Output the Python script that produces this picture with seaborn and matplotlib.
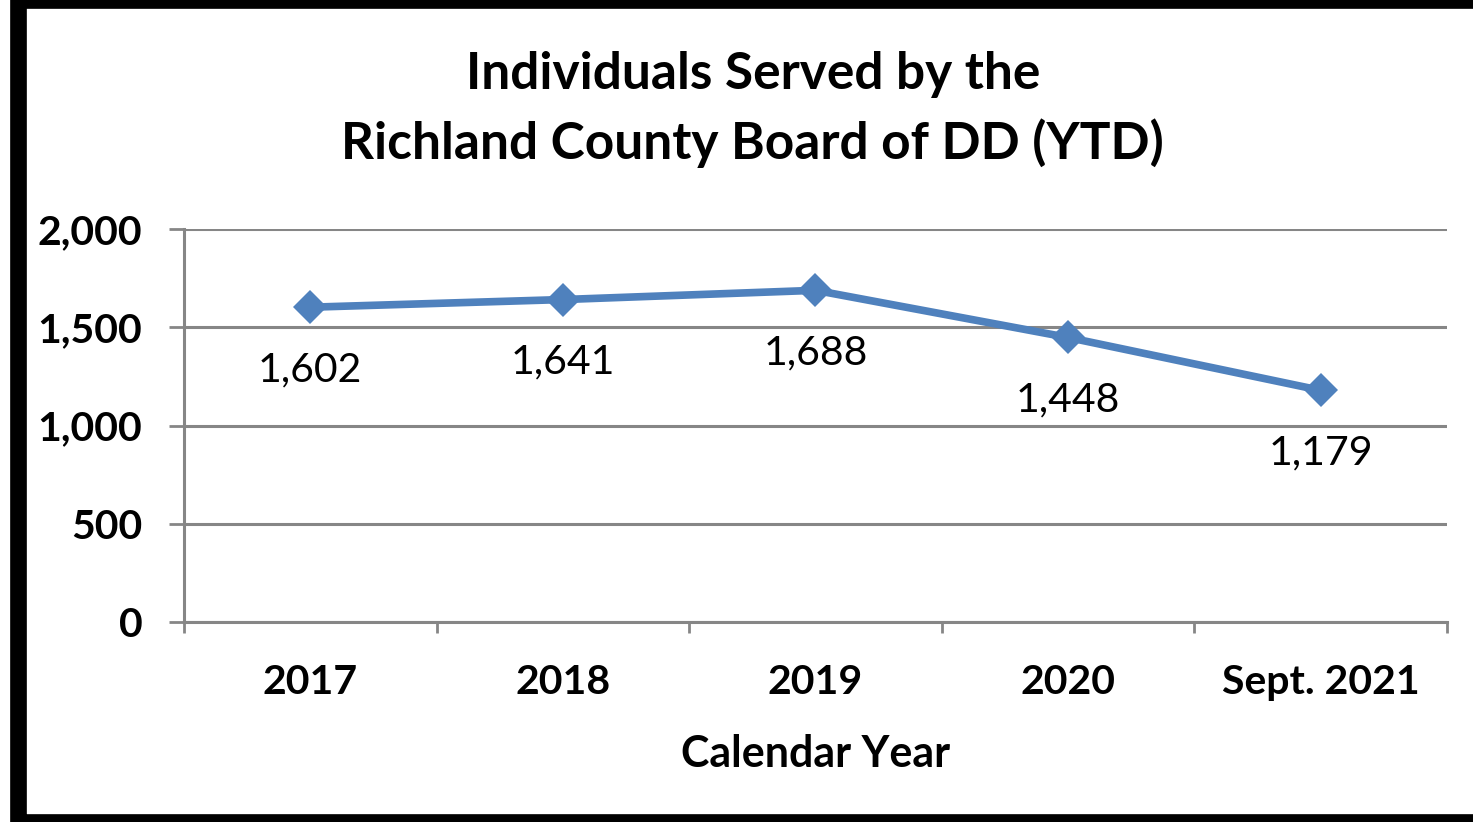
import pandas as pd
import numpy as np
import seaborn as sns
import matplotlib.pyplot as plt
from matplotlib.patches import Rectangle

years = ['2017', '2018', '2019', '2020', 'Sept. 2021']
served = [1602, 1641, 1688, 1448, 1179]
y_ticks = [0, 500, 1000, 1500, 2000]
y_labels = ['0', '500', '1,000', '1,500', '2,000']

df = pd.DataFrame({'year': years, 'served': served})

sns.set_style('white')
plt.rcParams['font.family'] = ['Lato', 'DejaVu Sans']
plt.rcParams['text.color'] = 'black'
plt.rcParams['xtick.color'] = 'black'
plt.rcParams['ytick.color'] = 'black'
plt.rcParams['axes.labelcolor'] = 'black'

fig = plt.figure(figsize=(14.73, 8.22), dpi=100)
ax = fig.add_axes([0.1249, 0.2433, 0.8574, 0.4781])

sns.lineplot(data=df, x='year', y='served', ax=ax, color='#4F81BD',
             linewidth=5.5, marker='D', markersize=17, markeredgewidth=0,
             sort=False)

for i, v in enumerate(served):
    ax.annotate(f'{v:,}', (i, v), xytext=(0, -45), textcoords='offset points',
                ha='center', va='center', fontsize=29.5, color='black')

ax.set_xlim(-0.5, len(years) - 0.5)
ax.set_ylim(0, 2000)
ax.set_yticks(y_ticks)
ax.set_yticklabels(y_labels, fontsize=29.5, fontweight='bold')
ax.set_xticks(range(len(years)))
ax.set_xticklabels(years, fontsize=29.5, fontweight='bold')
ax.set_xticks(np.arange(-0.5, len(years)), minor=True)
ax.tick_params(axis='x', which='major', bottom=True, length=0, pad=30)
ax.tick_params(axis='x', which='minor', bottom=True, length=8, width=2,
               color='#868686', direction='out')
ax.tick_params(axis='y', left=True, length=11, width=2, color='#868686',
               direction='out', pad=19)
ax.yaxis.grid(True, color='#868686', linewidth=2.2)
ax.set_axisbelow(True)

for s in ['top', 'right']:
    ax.spines[s].set_visible(False)
for s in ['left', 'bottom']:
    ax.spines[s].set_color('#868686')
    ax.spines[s].set_linewidth(2.2)

ax.set_xlabel('Calendar Year', fontsize=31, fontweight='bold', labelpad=24)
ax.set_ylabel('')

fig.text(0.511, 0.867, 'Individuals Served by the\nRichland County Board of DD (YTD)',
         ha='center', va='center', fontsize=37, fontweight='bold', linespacing=1.5)

# black frame round the chart
fig.patches.append(Rectangle((0.0125, 0.0), 0.99, 1.0, transform=fig.transFigure,
                             fill=False, edgecolor='black', linewidth=12))

fig.savefig('out.png', dpi=100)
